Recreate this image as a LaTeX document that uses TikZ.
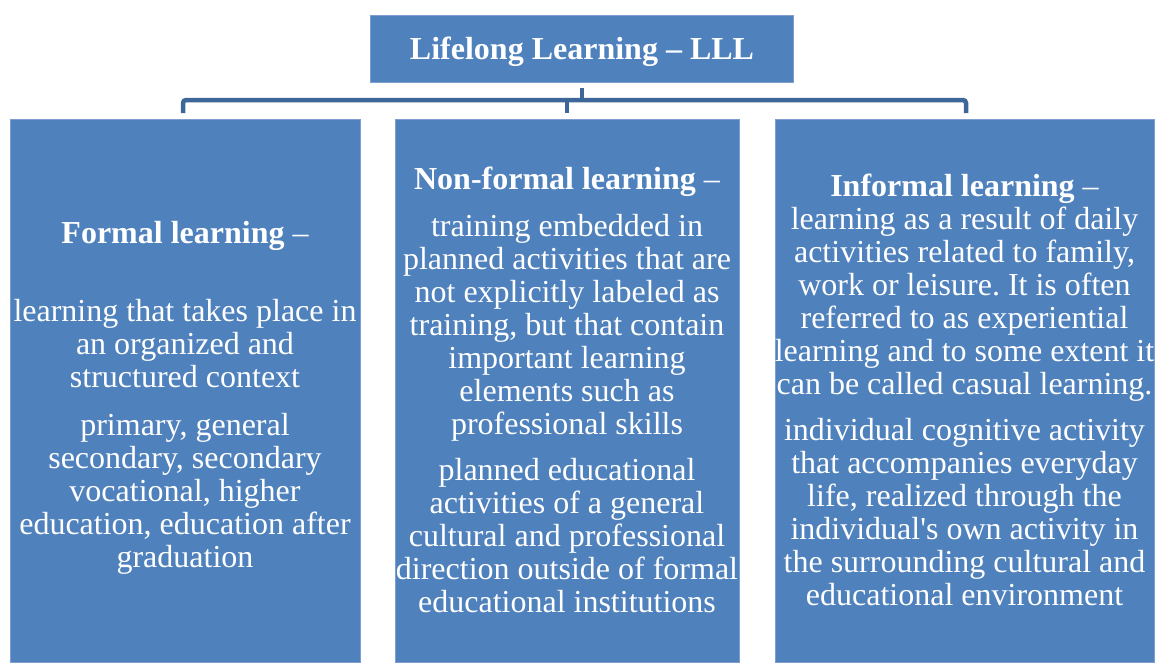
\documentclass[tikz,border=0pt]{standalone}
\usepackage{fontspec}
\setmainfont{Liberation Serif}
\definecolor{boxblue}{RGB}{79,129,189}
\definecolor{edgeblue}{RGB}{125,158,206}
\definecolor{linkblue}{RGB}{62,103,153}
\begin{document}
\frenchspacing
\begin{tikzpicture}[x=1pt,y=-1pt,
  box/.style={draw=edgeblue, line width=0.8pt, fill=boxblue, inner sep=0pt, outer sep=0pt},
  txt/.style={text=white, inner sep=0pt, font=\fontsize{32}{33}\selectfont, align=center},
  link/.style={draw=linkblue, line width=4.5pt, rounded corners=3pt}]
\useasboundingbox (0,0) rectangle (1157,662);
% boxes
\node[box, minimum width=423pt, minimum height=67pt] (lll) at (581.5,48.5) {};
\node[box, minimum width=350pt, minimum height=543pt] (formal) at (185,390.5) {};
\node[box, minimum width=344pt, minimum height=543pt] (nonformal) at (567,390.5) {};
\node[box, minimum width=379pt, minimum height=543pt] (informal) at (964.5,390.5) {};
% connectors
\coordinate (barY) at (0,100);
\coordinate (stub) at ([yshift=-6pt]lll.south);
\coordinate (dL) at ([xshift=-2pt,yshift=6pt]formal.north);
\coordinate (dM) at ([yshift=6pt]nonformal.north);
\coordinate (dR) at ([xshift=1.5pt,yshift=6pt]informal.north);
\draw[link] (dL) -- (dL |- barY) -- (dR |- barY) -- (dR);
\draw[link, rounded corners=0pt, line width=4pt] (dM) -- (dM |- barY);
\draw[link, rounded corners=0pt, line width=4pt] (stub) -- (stub |- barY);
% title
\node[txt, anchor=base] (title) at (582,59) {\textbf{Lifelong Learning – LLL}};
% formal
\node[txt, anchor=base] (hF) at (185,243.5) {\textbf{Formal learning} –};
\node[txt, anchor=north] (pF1) at (185,297.5) {\rule{0pt}{24pt}learning that takes place in\\an organized and\\structured context};
\node[txt, anchor=north] (pF2) at (185,411.5) {\rule{0pt}{24pt}primary, general\\secondary, secondary\\vocational, higher\\education, education after\\graduation};
% non-formal
\node[txt, anchor=base] (hN) at (567,189) {\textbf{Non-formal learning} –};
\node[txt, anchor=north] (pN1) at (567,212.5) {\rule{0pt}{24pt}training embedded in\\planned activities that are\\not explicitly labeled as\\training, but that contain\\important learning\\elements such as\\professional skills};
\node[txt, anchor=north] (pN2) at (567,456.5) {\rule{0pt}{24pt}planned educational\\activities of a general\\cultural and professional\\direction outside of formal\\educational institutions};
% informal
\node[txt, anchor=base] (hI) at (964.5,196) {\textbf{Informal learning} –};
\node[txt, anchor=north] (pI1) at (964.5,205.5) {\rule{0pt}{24pt}learning as a result of daily\\activities related to family,\\work or leisure. It is often\\referred to as experiential\\learning and to some extent it\\can be called casual learning.};
\node[txt, anchor=north] (pI2) at (964.5,416.5) {\rule{0pt}{24pt}individual cognitive activity\\that accompanies everyday\\life, realized through the\\individual\textquotesingle s own activity in\\the surrounding cultural and\\educational environment};
\end{tikzpicture}
\end{document}
